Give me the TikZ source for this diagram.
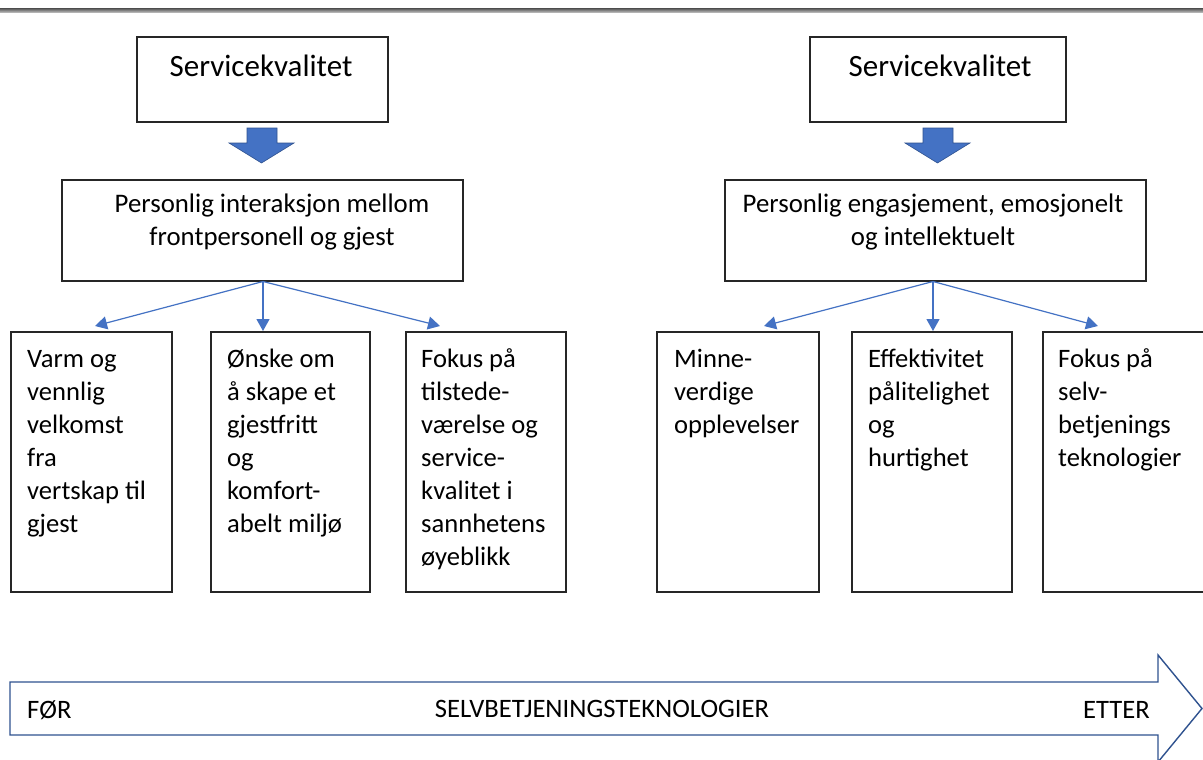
\documentclass[tikz,border=0pt]{standalone}
\usepackage{fontspec}
\setmainfont{Carlito}
\usetikzlibrary{arrows.meta}
\definecolor{acc}{HTML}{4472C4}
\definecolor{accd}{HTML}{2F528F}
\definecolor{boxline}{HTML}{262626}
\begin{document}
\begin{tikzpicture}[x=1pt,y=-1pt,
  box/.style={draw=boxline, line width=1.3pt, fill=white, inner sep=0pt, outer sep=0pt, anchor=north west},
  bigtxt/.style={font=\fontsize{31}{38}\selectfont, inner sep=0pt, anchor=base},
  midtxt/.style={font=\fontsize{26.8}{33}\selectfont, inner sep=0pt, align=center, anchor=north},
  smalltxt/.style={font=\fontsize{26.6}{33}\selectfont, inner sep=0pt, align=left, anchor=north west},
  tltxt/.style={font=\fontsize{26.6}{33}\selectfont, inner sep=0pt, anchor=base},
  conn/.style={draw=acc, line width=1.2pt, -{Triangle[length=12pt,width=13pt]}},
  blockarrow/.style={fill=acc, draw=accd, line width=0.6pt},
  timeline/.style={draw=accd, line width=1.4pt, fill=white}]
\useasboundingbox (0,0) rectangle (1203,760);
\fill[white] (0,0) rectangle (1203,760);
% top rule
\shade[top color=black!65, bottom color=black!25] (0,8.5) rectangle (1203,12.5);

% level 1
\node[box, minimum width=251pt, minimum height=85pt] (topL) at (137,37) {};
\node[box, minimum width=256pt, minimum height=85pt] (topR) at (810,37) {};
\node[bigtxt] (tLt) at (261,77) {Servicekvalitet};
\node[bigtxt] (tRt) at (940,77) {Servicekvalitet};

% block arrows
\filldraw[blockarrow] (247,128) -- (277,128) -- (277,143) -- (294,143) -- (261.5,163) -- (229,143) -- (247,143) -- cycle;
\filldraw[blockarrow] (923,128) -- (953,128) -- (953,143) -- (970,143) -- (937.5,163) -- (905,143) -- (923,143) -- cycle;

% level 2
\node[box, minimum width=401pt, minimum height=101pt] (midL) at (62,180) {};
\node[box, minimum width=421pt, minimum height=101pt] (midR) at (725,180) {};
\node[midtxt] (mLt) at (272,212-23.1) {\strut Personlig interaksjon mellom\\frontpersonell og gjest};
\node[midtxt] (mRt) at (933,212-23.1) {\strut Personlig engasjement, emosjonelt\\og intellektuelt};

% level 3
\node[box, minimum width=161pt, minimum height=260pt] (b1) at (11,332) {};
\node[box, minimum width=159pt, minimum height=260pt] (b2) at (211,332) {};
\node[box, minimum width=160pt, minimum height=260pt] (b3) at (406,332) {};
\node[box, minimum width=162pt, minimum height=260pt] (b4) at (657,332) {};
\node[box, minimum width=160pt, minimum height=260pt] (b5) at (852,332) {};
\node[box, minimum width=200pt, minimum height=260pt] (b6) at (1043,332) {};

\node[smalltxt] (b1t) at (27,367-23.1) {\strut Varm og\\vennlig\\velkomst\\fra\\vertskap til\\gjest};
\node[smalltxt] (b2t) at (227,367-23.1) {\strut Ønske om\\å skape et\\gjestfritt\\og\\komfort-\\abelt miljø};
\node[smalltxt] (b3t) at (421,367-23.1) {\strut Fokus på\\tilstede-\\værelse og\\service-\\kvalitet i\\sannhetens\\øyeblikk};
\node[smalltxt] (b4t) at (674,367-23.1) {\strut Minne-\\verdige\\opplevelser};
\node[smalltxt] (b5t) at (868,367-23.1) {\strut Effektivitet\\pålitelighet\\og\\hurtighet};
\node[smalltxt] (b6t) at (1058,367-23.1) {\strut Fokus på\\selv-\\betjenings\\teknologier};

% connectors
\coordinate (sL) at (263,281.5);
\coordinate (sR) at (933,281.5);
\coordinate (eL1) at (95,326);
\coordinate (eL2) at (263,331);
\coordinate (eL3) at (440,326);
\coordinate (eR1) at (764,326);
\coordinate (eR2) at (933,331);
\coordinate (eR3) at (1098,326);
\draw[conn] (sL) -- (eL1);
\draw[conn] (sL) -- (eL2);
\draw[conn] (sL) -- (eL3);
\draw[conn] (sR) -- (eR1);
\draw[conn] (sR) -- (eR2);
\draw[conn] (sR) -- (eR3);

% timeline arrow
\path[timeline] (10,682) -- (1158,682) -- (1158,655) -- (1202,708.5) -- (1158,762) -- (1158,735) -- (10,735) -- cycle;
\node[tltxt, anchor=base west] (tl1) at (27,718) {FØR};
\node[tltxt] (tl2) at (602,717) {SELVBETJENINGSTEKNOLOGIER};
\node[tltxt, anchor=base east] (tl3) at (1150,718) {ETTER};
\end{tikzpicture}
\end{document}
